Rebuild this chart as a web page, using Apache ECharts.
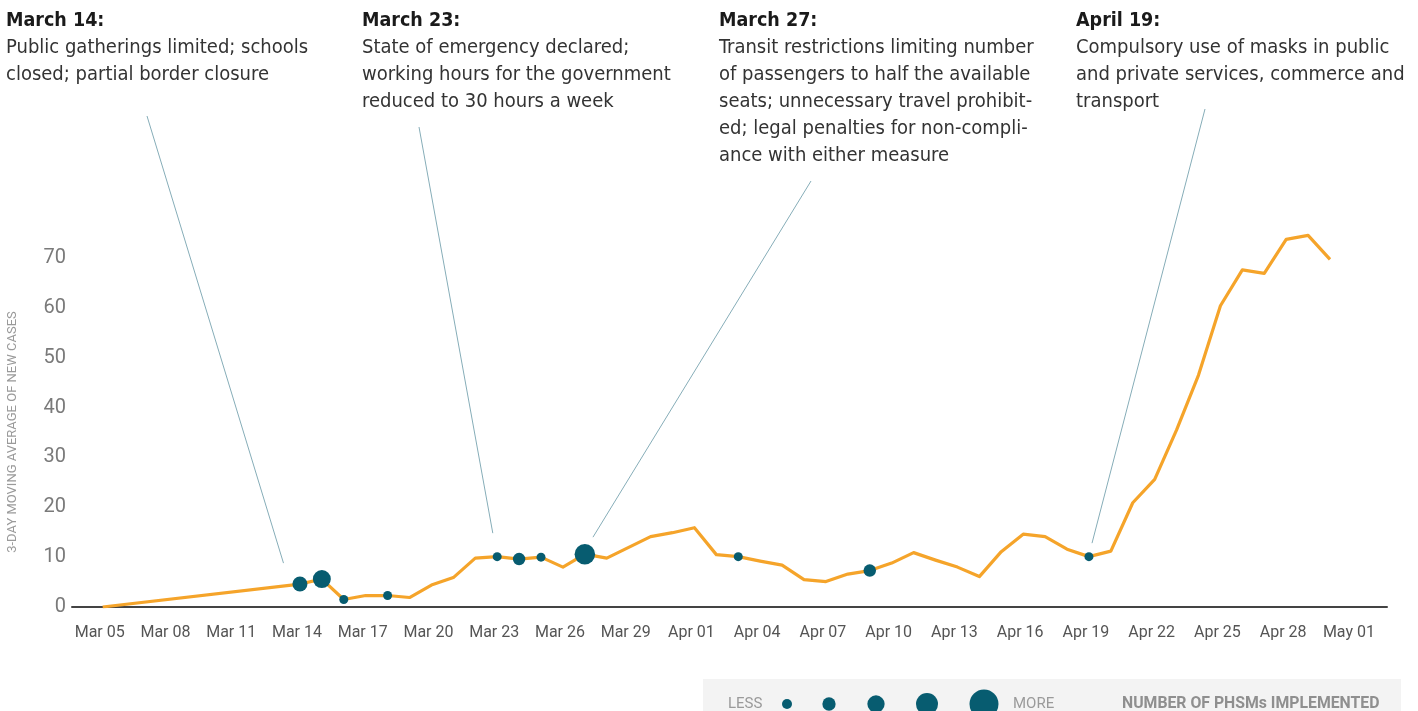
<!DOCTYPE html>
<html>
<head>
<meta charset="utf-8">
<script src="https://cdn.jsdelivr.net/npm/echarts@6/dist/echarts.min.js"></script>
<style>
html,body{margin:0;padding:0;background:#fff;}
#chart{width:1418px;height:711px;}
</style>
</head>
<body>
<div id="chart"></div>
<script>
// ---- DATA ----
const dates = ['Mar 05','Mar 06','Mar 07','Mar 08','Mar 09','Mar 10','Mar 11','Mar 12','Mar 13','Mar 14',
  'Mar 15','Mar 16','Mar 17','Mar 18','Mar 19','Mar 20','Mar 21','Mar 22','Mar 23','Mar 24',
  'Mar 25','Mar 26','Mar 27','Mar 28','Mar 29','Mar 30','Mar 31','Apr 01','Apr 02','Apr 03',
  'Apr 04','Apr 05','Apr 06','Apr 07','Apr 08','Apr 09','Apr 10','Apr 11','Apr 12','Apr 13',
  'Apr 14','Apr 15','Apr 16','Apr 17','Apr 18','Apr 19','Apr 20','Apr 21','Apr 22','Apr 23',
  'Apr 24','Apr 25','Apr 26','Apr 27','Apr 28','Apr 29','Apr 30'];
const cases = [0, null, null, null, null, null, null, null, null, 4.6,
  5.6, 1.5, 2.3, 2.3, 1.9, 4.4, 5.9, 9.8, 10.1, 9.6,
  10.0, 8.0, 10.6, 9.8, null, 14.1, 14.9, 15.9, 10.5, 10.1,
  9.2, 8.4, 5.5, 5.1, 6.6, 7.3, 8.8, 10.9, 9.4, 8.0,
  6.1, 11.1, 14.6, 14.1, 11.6, 10.1, 11.2, 20.9, 25.6, 35.5,
  46.5, 60.4, 67.6, 66.9, 73.7, 74.5, 69.7];
// number of PHSMs implemented on a date
const phsmDates = ['Mar 14','Mar 15','Mar 16','Mar 18','Mar 23','Mar 24','Mar 25','Mar 27','Apr 03','Apr 09','Apr 19'];
const phsmCounts = [3, 4, 1, 1, 1, 2, 1, 5, 1, 2, 1];
const tickLabels = ['Mar 05','Mar 08','Mar 11','Mar 14','Mar 17','Mar 20','Mar 23','Mar 26','Mar 29','Apr 01',
  'Apr 04','Apr 07','Apr 10','Apr 13','Apr 16','Apr 19','Apr 22','Apr 25','Apr 28','May 01'];
const yTicks = [0, 10, 20, 30, 40, 50, 60, 70];
const yAxisTitle = '3-DAY MOVING AVERAGE OF NEW CASES';
const annotationTitles = ['March 14:', 'March 23:', 'March 27:', 'April 19:'];
const annotationTexts = [
  'Public gatherings limited; schools\nclosed; partial border closure',
  'State of emergency declared;\nworking hours for the government\nreduced to 30 hours a week',
  'Transit restrictions limiting number\nof passengers to half the available\nseats; unnecessary travel prohibit-\ned; legal penalties for non-compli-\nance with either measure',
  'Compulsory use of masks in public\nand private services, commerce and\ntransport'
];
const legendLabels = ['LESS', 'MORE', 'NUMBER OF PHSMs IMPLEMENTED'];

// ---- CHART ----
const chart = echarts.init(document.getElementById('chart'), null, {renderer: 'canvas'});
const dayIndex = d => {
  const i = dates.indexOf(d);
  if (i >= 0) return i;
  const [m, dd] = d.split(' ');
  const base = {Mar: 0, Apr: 31, May: 61}[m];
  return base + parseInt(dd, 10) - 5;
};
const lineData = cases.map((v, i) => [i, v]);
const dotData = phsmDates.map((d, k) => {
  const i = dayIndex(d);
  return [i, cases[i], phsmCounts[k]];
});
const dotSize = n => [0, 9, 12.5, 15, 18, 20.5][n];
const tickValues = tickLabels.map(dayIndex);
const labelByValue = {};
tickLabels.forEach((t, i) => { labelByValue[tickValues[i]] = t; });

const FONT_TXT = "'Liberation Sans Narrow', 'DejaVu Sans Condensed', 'Roboto', sans-serif";

chart.setOption({
  animation: false,
  grid: {left: 72, right: 31, top: 208, bottom: 104, containLabel: false},
  xAxis: {
    type: 'value', min: -1.4, max: 58.6,
    axisLine: {show: true, onZero: false, lineStyle: {color: '#444', width: 2}},
    axisTick: {show: false},
    splitLine: {show: false},
    axisLabel: {
      customValues: tickValues,
      formatter: v => labelByValue[v] || '',
      color: '#555', fontSize: 16, fontFamily: 'Roboto', margin: 18,
      padding: [0, 6, 0, 0]
    }
  },
  yAxis: {
    type: 'value', min: 0, max: 80,
    axisLine: {show: false}, axisTick: {show: false}, splitLine: {show: false},
    axisLabel: {customValues: yTicks, color: '#7a7a7a', fontSize: 20, fontFamily: 'Roboto', margin: 6}
  },
  series: [
    {
      type: 'line', data: lineData, connectNulls: true, symbol: 'none',
      lineStyle: {color: '#F5A42A', width: 3.2, join: 'round'}, z: 2
    },
    {
      type: 'scatter', data: dotData,
      symbolSize: v => dotSize(v[2]),
      itemStyle: {color: '#075C70', opacity: 1}, z: 3
    }
  ]
});

// ---- ANNOTATIONS & LEGEND (graphic) ----
const blockX = [6, 362, 719, 1076];
const leaderTop = [[147, 116], [419, 127], [811, 181], [1205, 109]];
const leaderBottom = [[8.25, 8.8], [17.8, 14.8], [22.37, 14.0], [45.14, 12.8]];
const g = [];
annotationTitles.forEach((t, i) => {
  g.push({type: 'text', x: blockX[i], y: 21, style: {text: t, font: "bold 19.5px " + FONT_TXT, fill: '#1a1a1a', verticalAlign: 'middle'}});
  g.push({type: 'text', x: blockX[i], y: 34, style: {text: annotationTexts[i], font: "20px " + FONT_TXT, fill: '#333', lineHeight: 27, verticalAlign: 'top'}});
  const p = chart.convertToPixel({gridIndex: 0}, leaderBottom[i]);
  g.push({type: 'line', shape: {x1: leaderTop[i][0], y1: leaderTop[i][1], x2: p[0], y2: p[1]},
    style: {stroke: '#86adb8', lineWidth: 1}, z: 1});
});
g.push({type: 'text', x: 13, y: 432, rotation: Math.PI / 2,
  style: {text: yAxisTitle, font: "13px Roboto", fill: '#9a9a9a', align: 'center', verticalAlign: 'middle'}});
// legend box
g.push({type: 'rect', shape: {x: 703, y: 679, width: 698, height: 40}, style: {fill: '#f3f3f3'}, z: 0});
g.push({type: 'text', x: 728, y: 704, style: {text: legendLabels[0], font: "15px Roboto", fill: '#9a9a9a', verticalAlign: 'middle'}});
[[787, 10], [829, 13.3], [876, 17.3], [927, 22], [984, 29]].forEach(c => {
  g.push({type: 'circle', shape: {cx: c[0], cy: 704, r: c[1] / 2}, style: {fill: '#075C70'}});
});
g.push({type: 'text', x: 1013, y: 704, style: {text: legendLabels[1], font: "15px Roboto", fill: '#9a9a9a', verticalAlign: 'middle'}});
g.push({type: 'text', x: 1122, y: 704, style: {text: legendLabels[2], font: "bold 15.8px Roboto", fill: '#8f8f8f', verticalAlign: 'middle'}});
chart.setOption({graphic: g});
</script>
</body>
</html>
